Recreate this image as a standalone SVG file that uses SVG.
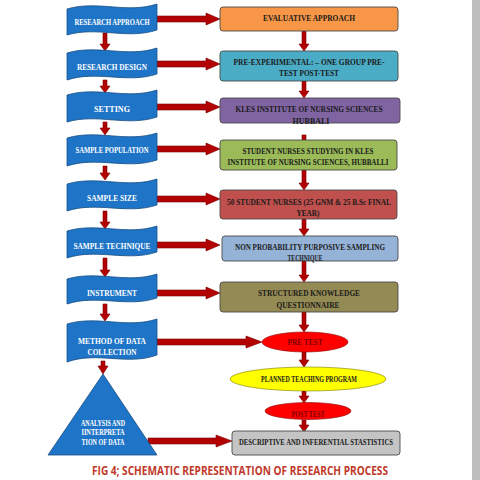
<svg xmlns="http://www.w3.org/2000/svg" width="480" height="480" viewBox="0 0 480 480">
<style>
.bn{fill:#1e74c6;stroke:#1a4f85;stroke-width:0.8}
.bt{fill:#ffffff;font-family:"Liberation Serif",serif;font-weight:bold;font-size:9px;text-anchor:middle}
.bx{stroke:#4a4a4a;stroke-width:0.9}
.tt{fill:#1a1a1a;font-family:"Liberation Serif",serif;font-weight:bold;font-size:9px;text-anchor:middle}
.rt{fill:#7a0000;font-family:"Liberation Serif",serif;font-weight:bold;font-size:8px;text-anchor:middle}
.ar{fill:#b30000;stroke:#7a0000;stroke-width:0.6}
.cap{fill:#c0392b;font-family:"Open Sans",sans-serif;font-weight:700;font-size:13px;text-anchor:middle}
</style>
<rect width="480" height="480" fill="#ffffff"/>
<rect x="472" y="0" width="8" height="480" fill="#bebebe"/>

<g id="connectors">
<path class="ar" d="M157,16 H206 V13 L220,19 L206,25 V22 H157 Z"/>
<path class="ar" d="M157,61 H206 V58 L220,64 L206,70 V67 H157 Z"/>
<path class="ar" d="M157,104 H206 V101 L220,107 L206,113 V110 H157 Z"/>
<path class="ar" d="M157,146 H206 V143 L220,149 L206,155 V152 H157 Z"/>
<path class="ar" d="M157,196 H206 V193 L220,199 L206,205 V202 H157 Z"/>
<path class="ar" d="M157,242 H206 V239 L220,245 L206,251 V248 H157 Z"/>
<path class="ar" d="M157,290 H206 V287 L220,293 L206,299 V296 H157 Z"/>
<path class="ar" d="M157,339 H246 V336 L262,342 L246,348 V345 H157 Z"/>
<path class="ar" d="M148,438 H216 V435 L232,441 L216,447 V444 H148 Z"/>
<path class="ar" d="M103,33 V44 H100 L105,51 L110,44 H107 V33 Z"/>
<path class="ar" d="M103,80 V86 H100 L105,93 L110,86 H107 V80 Z"/>
<path class="ar" d="M103,122 V128 H100 L105,135 L110,128 H107 V122 Z"/>
<path class="ar" d="M103,166 V173 H100 L105,180 L110,173 H107 V166 Z"/>
<path class="ar" d="M103,211 V222 H100 L105,229 L110,222 H107 V211 Z"/>
<path class="ar" d="M103,258 V270 H100 L105,277 L110,270 H107 V258 Z"/>
<path class="ar" d="M103,304 V314 H100 L105,321 L110,314 H107 V304 Z"/>
<path class="ar" d="M101,361 V366 H98 L103,374 L108,366 H105 V361 Z"/>
<path class="ar" d="M302,31 V44 H299 L304,51 L309,44 H306 V31 Z"/>
<path class="ar" d="M302,81 V91 H299 L304,98 L309,91 H306 V81 Z"/>
<path class="ar" d="M302,135 V146 H299 L304,153 L309,146 H306 V135 Z"/>
<path class="ar" d="M302,170 V183 H299 L304,190 L309,183 H306 V170 Z"/>
<path class="ar" d="M302,219 V229 H299 L304,236 L309,229 H306 V219 Z"/>
<path class="ar" d="M302,261 V275 H299 L304,282 L309,275 H306 V261 Z"/>
<path class="ar" d="M302,312 V325 H299 L304,332 L309,325 H306 V312 Z"/>
<path class="ar" d="M302,352 V360 H299 L304,367 L309,360 H306 V352 Z"/>
<path class="ar" d="M302,391 V396 H299 L304,403 L309,396 H306 V391 Z"/>
<path class="ar" d="M302,420 V425 H299 L304,432 L309,425 H306 V420 Z"/>
</g>

<g id="n-research-approach">
<path class="bn" d="M67,9 C97,0 127,14 157,4 V30 C127,40 97,26 67,35 Z"/>
<text class="bt" x="112" y="25" textLength="75" lengthAdjust="spacingAndGlyphs">RESEARCH APPROACH</text>
</g>
<g id="n-research-design">
<path class="bn" d="M67,53 C97,44 127,58 157,48 V74 C127,84 97,70 67,80 Z"/>
<text class="bt" x="112" y="70" textLength="70" lengthAdjust="spacingAndGlyphs">RESEARCH DESIGN</text>
</g>
<g id="n-setting">
<path class="bn" d="M67,95 C97,86 127,100 157,90 V117 C127,127 97,113 67,122 Z"/>
<text class="bt" x="112" y="112" textLength="36" lengthAdjust="spacingAndGlyphs">SETTING</text>
</g>
<g id="n-sample-population">
<path class="bn" d="M67,138 C97,129 127,143 157,133 V160 C127,170 97,156 67,166 Z"/>
<text class="bt" x="112" y="153" font-size="8.5" textLength="73" lengthAdjust="spacingAndGlyphs">SAMPLE POPULATION</text>
</g>
<g id="n-sample-size">
<path class="bn" d="M67,184 C97,175 127,189 157,179 V205 C127,215 97,201 67,211 Z"/>
<text class="bt" x="112" y="201" textLength="50" lengthAdjust="spacingAndGlyphs">SAMPLE SIZE</text>
</g>
<g id="n-sample-technique">
<path class="bn" d="M67,231 C97,222 127,236 157,226 V252 C127,262 97,248 67,258 Z"/>
<text class="bt" x="112" y="249" textLength="77" lengthAdjust="spacingAndGlyphs">SAMPLE TECHNIQUE</text>
</g>
<g id="n-instrument">
<path class="bn" d="M67,279 C97,270 127,284 157,274 V298 C127,308 97,294 67,304 Z"/>
<text class="bt" x="112" y="296" textLength="50" lengthAdjust="spacingAndGlyphs">INSTRUMENT</text>
</g>
<g id="n-method">
<path class="bn" d="M67,324 C97,315 127,329 157,319 V355 C127,366 97,351 67,362 Z"/>
<text class="bt" x="112" y="344" textLength="68" lengthAdjust="spacingAndGlyphs">METHOD OF DATA</text>
<text class="bt" x="112" y="355" textLength="49" lengthAdjust="spacingAndGlyphs">COLLECTION</text>
</g>
<g id="n-analysis">
<path class="bn" d="M103,374 L157,455 H48 Z"/>
<text class="bt" x="103" y="426" font-size="7.5" textLength="44" lengthAdjust="spacingAndGlyphs">ANALYSIS AND</text>
<text class="bt" x="103" y="435" font-size="7.5" textLength="43" lengthAdjust="spacingAndGlyphs">IINTERPRETA</text>
<text class="bt" x="103" y="445" font-size="7.5" textLength="43" lengthAdjust="spacingAndGlyphs">TION OF DATA</text>
</g>

<g id="n-evaluative">
<rect class="bx" x="220" y="7" width="178" height="24" rx="3" fill="#f79646"/>
<text class="tt" x="309" y="21" textLength="92" lengthAdjust="spacingAndGlyphs">EVALUATIVE APPROACH</text>
</g>
<g id="n-pre-experimental">
<rect class="bx" x="220" y="51" width="178" height="30" rx="3" fill="#4bacc6"/>
<text class="tt" x="309" y="65" textLength="151" lengthAdjust="spacingAndGlyphs">PRE-EXPERIMENTAL: – ONE GROUP PRE-</text>
<text class="tt" x="309" y="76" textLength="60" lengthAdjust="spacingAndGlyphs">TEST POST-TEST</text>
</g>
<g id="n-kles">
<rect class="bx" x="220" y="98" width="180" height="25" rx="3" fill="#8064a2"/>
<text class="tt" x="309" y="112" textLength="147" lengthAdjust="spacingAndGlyphs">KLES INSTITUTE OF NURSING SCIENCES</text>
<text class="tt" x="311" y="124" textLength="37" lengthAdjust="spacingAndGlyphs">HUBBALI</text>
</g>
<g id="n-student-nurses">
<rect class="bx" x="220" y="140" width="177" height="30" rx="3" fill="#9bbb59"/>
<text class="tt" x="308" y="154" textLength="131" lengthAdjust="spacingAndGlyphs">STUDENT NURSES STUDYING IN KLES</text>
<text class="tt" x="308" y="165" textLength="161" lengthAdjust="spacingAndGlyphs">INSTITUTE OF NURSING SCIENCES, HUBBALLI</text>
</g>
<g id="n-sample-size-box">
<rect class="bx" x="220" y="190" width="177" height="29" rx="3" fill="#c0504d"/>
<text class="tt" x="309" y="205" textLength="164" lengthAdjust="spacingAndGlyphs">50 STUDENT NURSES (25 GNM &amp; 25 B.Sc FINAL</text>
<text class="tt" x="308" y="216" textLength="23" lengthAdjust="spacingAndGlyphs">YEAR)</text>
</g>
<g id="n-sampling-technique">
<rect class="bx" x="222" y="236" width="176" height="25" rx="3" fill="#95b3d7"/>
<text class="tt" x="310" y="250" textLength="150" lengthAdjust="spacingAndGlyphs">NON PROBABILITY PURPOSIVE SAMPLING</text>
<text class="tt" x="305" y="261" textLength="35" lengthAdjust="spacingAndGlyphs">TECHNIQUE</text>
</g>
<g id="n-questionnaire">
<rect class="bx" x="220" y="282" width="178" height="30" rx="3" fill="#948a54"/>
<text class="tt" x="309" y="296" textLength="102" lengthAdjust="spacingAndGlyphs">STRUCTURED KNOWLEDGE</text>
<text class="tt" x="308" y="308" textLength="63" lengthAdjust="spacingAndGlyphs">QUESTIONNAIRE</text>
</g>
<g id="n-pre-test">
<ellipse cx="305" cy="342" rx="43" ry="10" fill="#ff0000" stroke="#8b0000" stroke-width="0.6"/>
<text class="rt" x="305" y="345" textLength="35" lengthAdjust="spacingAndGlyphs">PRE TEST</text>
</g>
<g id="n-planned">
<ellipse cx="308" cy="379" rx="78" ry="12" fill="#ffff00" stroke="#7a7a00" stroke-width="0.6"/>
<text class="tt" x="309" y="382" font-size="7.5" textLength="96" lengthAdjust="spacingAndGlyphs">PLANNED TEACHING PROGRAM</text>
</g>
<g id="n-post-test">
<ellipse cx="308" cy="411" rx="43" ry="8.5" fill="#ff0000" stroke="#8b0000" stroke-width="0.6"/>
<text class="rt" x="308" y="417" font-size="7" textLength="33" lengthAdjust="spacingAndGlyphs">POST TEST</text>
</g>
<g id="n-statistics">
<rect class="bx" x="232" y="431" width="168" height="24" rx="3" fill="#c4c4c4"/>
<text class="tt" x="316" y="445" textLength="154" lengthAdjust="spacingAndGlyphs">DESCRIPTIVE AND INFERENTIAL STASTISTICS</text>
</g>

<text class="cap" x="240" y="475" textLength="296" lengthAdjust="spacingAndGlyphs">FIG 4; SCHEMATIC REPRESENTATION OF RESEARCH PROCESS</text>
</svg>
